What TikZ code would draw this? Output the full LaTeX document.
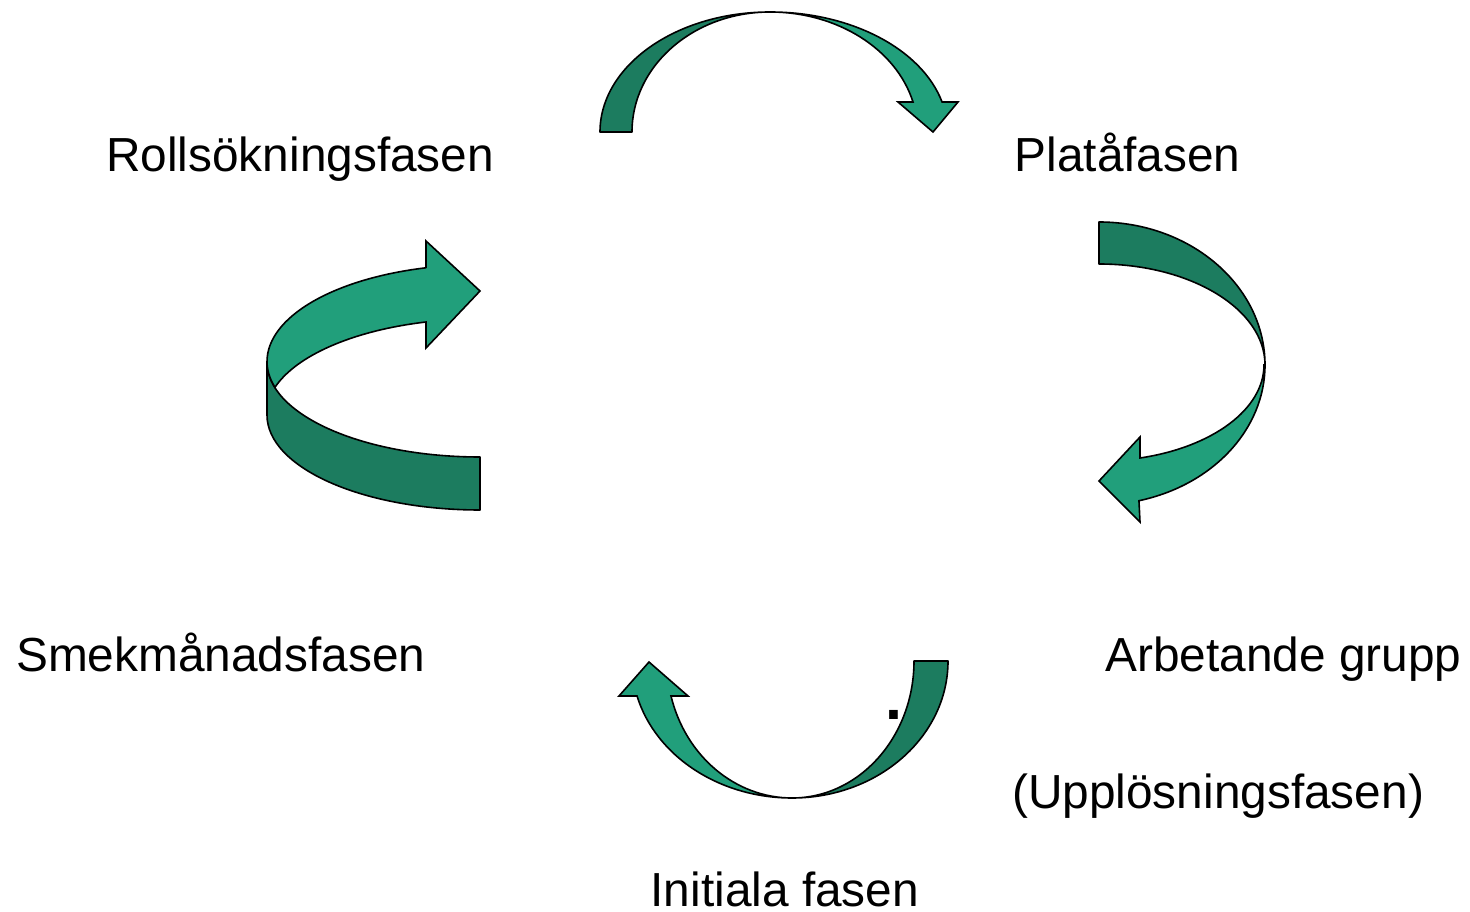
\documentclass[tikz,border=0pt]{standalone}
\usepackage{fontspec}
\setmainfont{Liberation Sans}
\definecolor{darkg}{RGB}{28,124,95}
\definecolor{lightg}{RGB}{33,159,123}
\begin{document}
\begin{tikzpicture}[x=1pt,y=1pt,
  back/.style={fill=darkg,draw=black,line width=1.6pt,line join=round},
  front/.style={fill=lightg,draw=black,line width=1.6pt,line join=miter},
  lbl/.style={inner sep=0pt,anchor=base west,text depth=0pt,font=\fontsize{47.8}{56}\selectfont}]
\useasboundingbox (0,0) rectangle (1470,911);
% top arrow
\draw[back] (600,779) arc[start angle=180,end angle=90,x radius=170pt,y radius=120pt]
  arc[start angle=90,end angle=180,x radius=138pt,y radius=120pt] -- cycle;
\draw[front] (770,899) arc[start angle=90,end angle=14.48,x radius=177.7pt,y radius=120pt]
  -- (958,809) -- (933,779) -- (898,809) -- (913,809)
  arc[start angle=14.48,end angle=90,x radius=147.7pt,y radius=120pt] -- cycle;
% right arrow
\draw[back] (1099,689) arc[start angle=90,end angle=0,x radius=166pt,y radius=143pt]
  arc[start angle=0,end angle=90,x radius=166pt,y radius=101pt] -- cycle;
\draw[front] (1265,546) arc[start angle=0,end angle=-75.8,x radius=167pt,y radius=140pt]
  -- (1140,389) -- (1099,430) -- (1140,474) -- (1140,453)
  arc[start angle=-75.6,end angle=0,x radius=165pt,y radius=96pt] -- cycle;
% left arrow
\draw[back] (267,549) -- (267,496) arc[start angle=180,end angle=270,x radius=213pt,y radius=95pt]
  -- (480,454) arc[start angle=270,end angle=180,x radius=213pt,y radius=95pt] -- cycle;
\draw[front] (426,643) -- (426,670) -- (480,620) -- (426,563) -- (426,589)
  arc[start angle=104.6,end angle=163.3,x radius=214pt,y radius=96pt]
  arc[start angle=-164.3,end angle=-180,x radius=213pt,y radius=95pt]
  arc[start angle=180,end angle=104.7,x radius=213pt,y radius=97pt] -- cycle;
% bottom arrow
\draw[back] (948,250) arc[start angle=0,end angle=-90,x radius=156pt,y radius=137pt]
  arc[start angle=-90,end angle=0,x radius=122pt,y radius=137pt] -- cycle;
\draw[front] (792,113) arc[start angle=270,end angle=194.8,x radius=160.3pt,y radius=137pt]
  -- (619,215) -- (649,249) -- (688,215) -- (671,215)
  arc[start angle=194.8,end angle=270,x radius=125.2pt,y radius=137pt] -- cycle;
% labels
\node[lbl] (roll) at (106,739) {Rollsökningsfasen};
\node[lbl] (plata) at (1014.5,739) {Platåfasen};
\node[lbl] (smek) at (16,239) {Smekmånadsfasen};
\node[lbl] (arb) at (1105,239) {Arbetande grupp};
\node[lbl] (uppl) at (1012,103) {(Upplösningsfasen)};
\node[lbl] (init) at (650.5,4.5) {Initiala fasen};
\node[inner sep=0pt,anchor=base,font=\bfseries\fontsize{61}{70}\selectfont] (dot) at (894,191) {.};
\end{tikzpicture}
\end{document}
